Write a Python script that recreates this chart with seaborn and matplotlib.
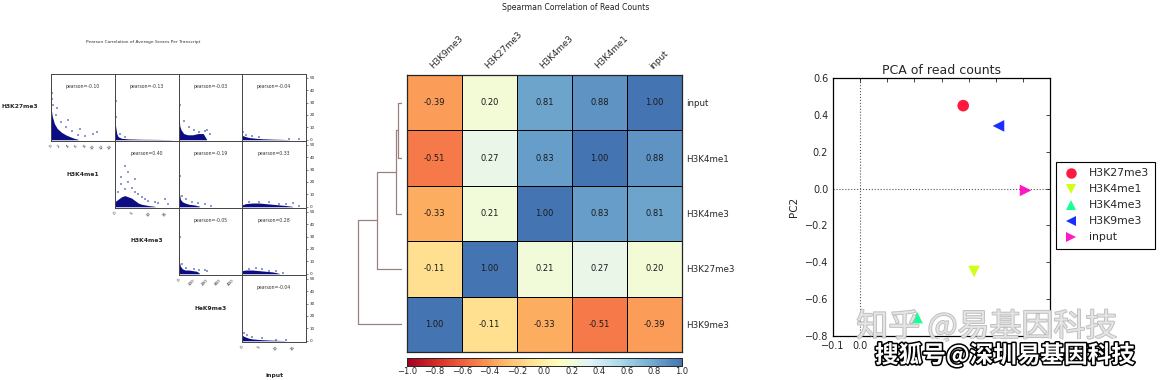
import numpy as np
import pandas as pd
import seaborn as sns
import matplotlib
matplotlib.use('Agg')
from matplotlib import pyplot as plt
from matplotlib.colors import LinearSegmentedColormap
import matplotlib.patheffects as pe

# ---------------- data: left panel (pairwise scatter) ----------------
marks = ['H3K27me3', 'H3K4me1', 'H3K4me3', 'HeK9me3', 'input']
pearson_row0 = [-0.10, -0.13, -0.03, -0.04]
pearson_row1 = [0.40, -0.19, 0.33]
pearson_row2 = [-0.05, 0.28]
pearson_row3 = [-0.04]

col_xlim = [(0, 15.2), (0, 19), (0, 490), (0, 19)]
col_xticks = [[0, 2, 4, 6, 8, 10, 12, 14], [0, 5, 10, 15], [0, 100, 200, 300, 400], [0, 5, 10, 15]]
y_ticks = [0, 10, 20, 30, 40, 50]

# dense envelope of each scatter cloud (x, top y)
r0c0_env_x = [0, 0.3, 0.8, 1.5, 2.5, 3.5, 4.5, 5.5, 6.5]
r0c0_env_y = [26, 19, 13, 9, 6, 4, 2.5, 1.2, 0.3]
r0c1_env_x = [0, 0.3, 0.6, 1, 2, 4, 8, 12, 17]
r0c1_env_y = [17, 10, 5, 2.5, 1.2, 0.7, 0.4, 0.3, 0.1]
r0c2_env_x = [0, 5, 10, 20, 40, 70, 110, 150, 190, 215]
r0c2_env_y = [27, 18, 11, 8, 5, 4, 4, 5, 5, 0.5]
r0c3_env_x = [0, 0.5, 1, 2, 4, 6, 9, 12, 14]
r0c3_env_y = [3.5, 3, 2.5, 1.8, 1.2, 0.8, 0.5, 0.3, 0.1]
r1c1_env_x = [0, 1, 2, 3, 4, 5, 6, 7, 8, 10, 12]
r1c1_env_y = [4, 6, 8, 9, 8, 7, 5, 3, 2, 1, 0.3]
r1c2_env_x = [0, 4, 8, 15, 30, 50, 80, 120, 160]
r1c2_env_y = [30, 20, 10, 6, 4, 3, 2, 1.5, 0.5]
r1c3_env_x = [0, 1, 3, 5, 7, 9, 11, 13, 15]
r1c3_env_y = [1.5, 2.5, 3, 3, 2.5, 2, 1.5, 1, 0.3]
r2c2_env_x = [0, 4, 8, 15, 30, 50, 80, 110, 140, 160]
r2c2_env_y = [28, 18, 9, 6, 4, 3, 3, 2.5, 2, 0.5]
r2c3_env_x = [0, 1, 3, 5, 7, 9, 10, 11]
r2c3_env_y = [2.5, 3, 3, 2.5, 2, 1.5, 1, 0.3]
r3c3_env_x = [0, 0.5, 1, 2, 3, 5, 7, 9, 11, 13]
r3c3_env_y = [4.5, 3.5, 3, 2, 1.5, 1, 0.7, 0.5, 0.3, 0.1]

# sparse outlying points of each cloud
r0c0_pts = [(0.2, 33), (0.5, 28), (1.2, 20), (2.5, 14), (3.5, 10), (5, 7), (6.5, 4), (8, 3),
            (10, 5), (11, 6), (7, 9), (4, 16), (1.5, 26), (0.3, 38)]
r0c1_pts = [(0.2, 22), (0.1, 27), (0.5, 18), (1.5, 5), (3, 2), (0.3, 31)]
r0c2_pts = [(5, 35), (10, 28), (40, 15), (120, 8), (200, 7), (240, 5), (220, 8), (80, 10),
            (160, 6), (6, 42)]
r0c3_pts = [(0.3, 6), (1, 4), (3, 3), (5, 2), (14, 0.5), (17, 0.3)]
r1c1_pts = [(2, 18), (3, 14), (4, 20), (5, 15), (6, 12), (7, 10), (8, 8), (9, 6), (10, 5),
            (12, 4), (13, 3), (15, 6), (16, 2), (4, 28), (6, 22), (3, 33), (1, 12), (2, 24)]
r1c2_pts = [(5, 40), (10, 25), (30, 9), (60, 6), (100, 4), (150, 3), (200, 2), (250, 1)]
r1c3_pts = [(2, 4), (5, 4), (8, 3.5), (11, 2.5), (13, 2), (15, 3), (17, 1)]
r2c2_pts = [(5, 40), (8, 30), (30, 8), (60, 5), (120, 4), (160, 3), (200, 3), (220, 2)]
r2c3_pts = [(2, 4), (4, 4.5), (6, 3.5), (8, 2.5), (10, 2), (12, 1)]
r3c3_pts = [(0.5, 6), (1.5, 4.5), (3, 3), (6, 2), (10, 1), (13, 0.5)]

# ---------------- data: middle panel (Spearman heatmap) ----------------
hm_cols = ['H3K9me3', 'H3K27me3', 'H3K4me3', 'H3K4me1', 'input']
hm_rows = ['input', 'H3K4me1', 'H3K4me3', 'H3K27me3', 'H3K9me3']
row_input = [-0.39, 0.20, 0.81, 0.88, 1.00]
row_h3k4me1 = [-0.51, 0.27, 0.83, 1.00, 0.88]
row_h3k4me3 = [-0.33, 0.21, 1.00, 0.83, 0.81]
row_h3k27me3 = [-0.11, 1.00, 0.21, 0.27, 0.20]
row_h3k9me3 = [1.00, -0.11, -0.33, -0.51, -0.39]

# ---------------- data: right panel (PCA) ----------------
pca_samples = ['H3K27me3', 'H3K4me1', 'H3K4me3', 'H3K9me3', 'input']
pc1 = [0.38, 0.42, 0.21, 0.51, 0.61]
pc2 = [0.45, -0.45, -0.70, 0.34, -0.01]
pca_markers = ['o', 'v', '^', '<', '>']
pca_xticks = [-0.1, 0.0, 0.1, 0.2, 0.3, 0.4, 0.5, 0.6, 0.7]
pca_yticks = [-0.8, -0.6, -0.4, -0.2, 0.0, 0.2, 0.4, 0.6]

# ---------------- figure ----------------
W, H = 1160, 380
sns.set_style('white')
plt.rcParams['font.family'] = ['DejaVu Sans']
fig = plt.figure(figsize=(W / 100, H / 100), dpi=100)


def px_axes(x0, y0, x1, y1):
    return fig.add_axes([x0 / W, 1 - y1 / H, (x1 - x0) / W, (y1 - y0) / H])


# ---- left: pearson scatter matrix ----
clouds = {
    (0, 0): (r0c0_env_x, r0c0_env_y, r0c0_pts), (0, 1): (r0c1_env_x, r0c1_env_y, r0c1_pts),
    (0, 2): (r0c2_env_x, r0c2_env_y, r0c2_pts), (0, 3): (r0c3_env_x, r0c3_env_y, r0c3_pts),
    (1, 1): (r1c1_env_x, r1c1_env_y, r1c1_pts), (1, 2): (r1c2_env_x, r1c2_env_y, r1c2_pts),
    (1, 3): (r1c3_env_x, r1c3_env_y, r1c3_pts), (2, 2): (r2c2_env_x, r2c2_env_y, r2c2_pts),
    (2, 3): (r2c3_env_x, r2c3_env_y, r2c3_pts), (3, 3): (r3c3_env_x, r3c3_env_y, r3c3_pts),
}
pearson_rows = [pearson_row0, pearson_row1, pearson_row2, pearson_row3]

gx0, gy0, cw, ch = 51, 74, 63.75, 67
for (r, c), (ex, ey, pts) in clouds.items():
    ax = px_axes(gx0 + c * cw, gy0 + r * ch, gx0 + (c + 1) * cw, gy0 + (r + 1) * ch)
    pts = np.array(pts)
    sns.scatterplot(x=pts[:, 0], y=pts[:, 1], ax=ax, s=0.8, color='#8e9ad0',
                    marker='s', linewidth=0)
    ax.fill_between(ex, 0, ey, color='#0c0c84', lw=0)
    ax.set_xlim(col_xlim[c])
    ax.set_ylim(-1, 53)
    ax.text(0.5, 0.82, f'pearson={pearson_rows[r][c - r]:.2f}', transform=ax.transAxes,
            ha='center', va='center', fontsize=3.3, color='#333333')
    for s in ax.spines.values():
        s.set_linewidth(0.7)
        s.set_color('#444444')
    if c == r:
        ax.set_xticks(col_xticks[c])
        ax.set_xticklabels(col_xticks[c], rotation=45, fontsize=3)
        ax.tick_params(axis='x', length=1.5, width=0.4, pad=1)
    else:
        ax.set_xticks([])
    if c == 3:
        ax.yaxis.tick_right()
        ax.set_yticks(y_ticks)
        ax.set_yticklabels(y_ticks, fontsize=3)
        ax.tick_params(axis='y', length=1.5, width=0.4, pad=1)
    else:
        ax.set_yticks([])

fig.text(20 / W, 1 - 107 / H, marks[0], ha='center', va='center', fontsize=4.3, fontweight='bold')
for i in range(1, 5):
    fig.text((gx0 + (i - 0.5) * cw) / W, 1 - (gy0 + i * ch + 33) / H, marks[i],
             ha='center', va='center', fontsize=4.3, fontweight='bold')
fig.text(143 / W, 1 - 42 / H, 'Pearson Correlation of Average Scores Per Transcript',
         ha='center', va='center', fontsize=3.2, color='#333333')

# ---- middle: spearman heatmap with dendrogram ----
corr = pd.DataFrame([row_input, row_h3k4me1, row_h3k4me3, row_h3k27me3, row_h3k9me3],
                    index=hm_rows, columns=hm_cols)
cmap = LinearSegmentedColormap.from_list('rdylbu_part', plt.get_cmap('RdYlBu')(np.linspace(0, 0.9, 256)))
hm_ax = px_axes(407, 75, 682, 352)
cb_ax = px_axes(407, 358, 682, 366)
sns.heatmap(corr, ax=hm_ax, cmap=cmap, vmin=-1, vmax=1, annot=True, fmt='.2f',
            annot_kws={'fontsize': 6, 'color': '#1a1a1a'}, linewidths=0.6, linecolor='black',
            cbar_ax=cb_ax, cbar_kws={'orientation': 'horizontal', 'ticks': np.linspace(-1, 1, 11)})
hm_ax.xaxis.tick_top()
hm_ax.set_xticklabels(hm_cols, rotation=45, ha='left', va='bottom', rotation_mode='anchor', fontsize=6.3)
hm_ax.yaxis.tick_right()
hm_ax.set_yticklabels(hm_rows, rotation=0, fontsize=6.3)
hm_ax.tick_params(length=0, pad=3)
hm_ax.set_xlabel('')
hm_ax.set_ylabel('')
for s in hm_ax.spines.values():
    s.set_visible(True)
    s.set_linewidth(0.9)
cb_ax.tick_params(labelsize=6, length=0, pad=1)
cb_ax.set_xticklabels([f'{t:.1f}'.replace('-', '\u2212') for t in np.linspace(-1, 1, 11)])
for s in cb_ax.spines.values():
    s.set_visible(True)
    s.set_linewidth(0.6)

# average-linkage clustering on 1 - correlation (rows vs same-ordered columns)
dist = 1 - corr[hm_rows].values
clusters = {i: [i] for i in range(len(hm_rows))}
node_pos = {i: (i + 0.5, 0.0) for i in range(len(hm_rows))}
segments = []
root_h = 0.0
while len(clusters) > 1:
    keys = sorted(clusters)
    best = None
    for ia, a in enumerate(keys):
        for b in keys[ia + 1:]:
            dd = dist[np.ix_(clusters[a], clusters[b])].mean()
            if best is None or dd < best[0]:
                best = (dd, a, b)
    root_h, a, b = best
    (ya, ha_), (yb, hb) = node_pos[a], node_pos[b]
    segments.append(([ha_, root_h, root_h, hb], [ya, ya, yb, yb]))
    new = max(node_pos) + 1
    clusters[new] = clusters.pop(a) + clusters.pop(b)
    node_pos[new] = ((ya + yb) / 2, root_h)

dn_ax = px_axes(355, 75, 402, 352)
for xs, ys in segments:
    dn_ax.plot(xs, ys, color='#9b8080', lw=0.9)
dn_ax.set_ylim(len(hm_rows), 0)
dn_ax.set_xlim(root_h * 1.07, 0)
dn_ax.axis('off')

fig.text(576 / W, 1 - 7 / H, 'Spearman Correlation of Read Counts', ha='center', va='center',
         fontsize=5.6, color='#222222')

# ---- right: PCA ----
pca = pd.DataFrame({'sample': pca_samples, 'PC1': pc1, 'PC2': pc2})
rainbow = plt.get_cmap('gist_rainbow')(np.linspace(0, 1, len(pca_samples)))
pal = {s: rainbow[i] for i, s in enumerate(pca_samples)}
mk = {s: pca_markers[i] for i, s in enumerate(pca_samples)}
pca_ax = px_axes(833, 78, 1050, 336)
sns.scatterplot(data=pca, x='PC1', y='PC2', hue='sample', style='sample', palette=pal,
                markers=mk, s=70, alpha=0.9, linewidth=0, ax=pca_ax)
pca_ax.axhline(0, color='#555555', ls=':', lw=0.8, zorder=0)
pca_ax.axvline(0, color='#555555', ls=':', lw=0.8, zorder=0)
pca_ax.set_xlim(-0.1, 0.7)
pca_ax.set_ylim(-0.8, 0.6)
pca_ax.set_xticks(pca_xticks)
# only the first two x labels show; the rest sit under the watermark
pca_ax.set_xticklabels([f'{t:.1f}'.replace('-', '\u2212') if t <= 0 else '' for t in pca_xticks])
pca_ax.set_yticks(pca_yticks)
pca_ax.set_yticklabels([f'{t:.1f}'.replace('-', '\u2212') for t in pca_yticks])
pca_ax.tick_params(direction='in', top=True, right=True, labelsize=7, length=3, width=0.6)
pca_ax.set_xlabel('')
pca_ax.set_ylabel('PC2', fontsize=7.5)
pca_ax.set_title('PCA of read counts', fontsize=9, pad=3)
for s in pca_ax.spines.values():
    s.set_linewidth(0.9)
    s.set_color('black')
handles, labels = pca_ax.get_legend_handles_labels()
leg = pca_ax.legend(handles, labels, loc='upper left', bbox_to_anchor=(1056 / W, 1 - 162 / H),
                    bbox_transform=fig.transFigure, borderaxespad=0, fontsize=7.8,
                    fancybox=False, edgecolor='black', framealpha=1, handletextpad=0.9,
                    labelspacing=0.55, borderpad=0.6, markerscale=0.9, handlelength=1.5)
leg.get_frame().set_linewidth(0.8)

# ---- watermarks ----
fig.text(987 / W, 1 - 327 / H, '知乎 @易基因科技', ha='center', va='center', fontsize=23,
         family=['Noto Sans CJK SC', 'DejaVu Sans'], color='#e8e8e8', alpha=0.85,
         path_effects=[pe.withStroke(linewidth=1.2, foreground='#b0b0b0')])
fig.text(1005 / W, 1 - 355 / H, '搜狐号@深圳易基因科技', ha='center', va='center', fontsize=17,
         fontweight='bold', family=['Noto Sans CJK SC', 'DejaVu Sans'], color='white',
         path_effects=[pe.Stroke(linewidth=6, foreground='white'),
                       pe.Stroke(linewidth=2.2, foreground='black'), pe.Normal()])

fig.savefig('out.png', dpi=100, facecolor='white')
